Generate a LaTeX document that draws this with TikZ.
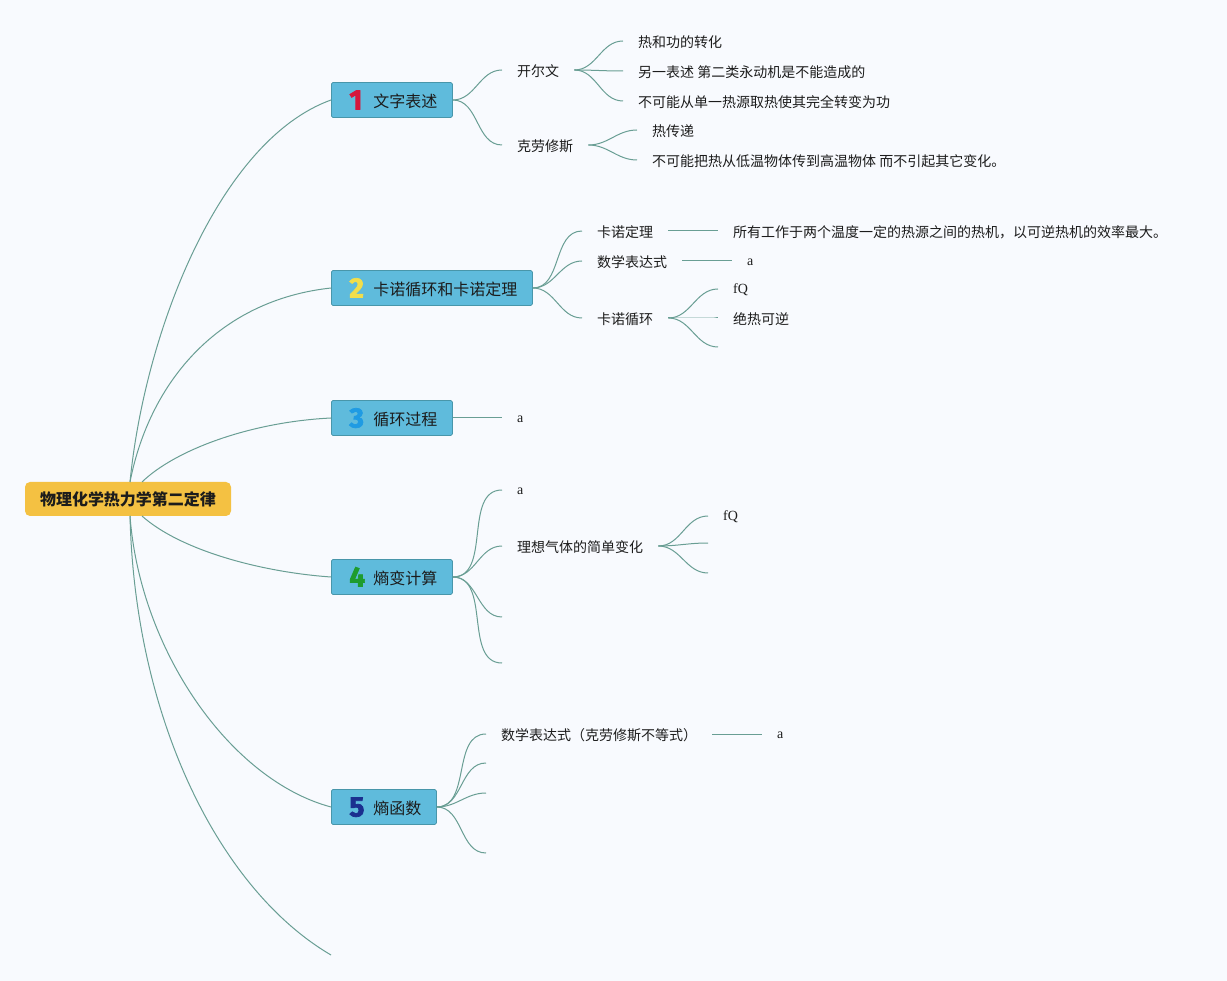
\documentclass[tikz,border=0pt]{standalone}
\usepackage{fontspec}
\setmainfont{Liberation Serif}
\newfontfamily\cjk{Noto Sans CJK SC}
\newfontfamily\numfont{Fira Sans}
\definecolor{bg}{RGB}{248,250,254}
\definecolor{lnk}{RGB}{105,158,148}
\definecolor{boxc}{RGB}{95,187,220}
\definecolor{boxb}{RGB}{72,150,170}
\definecolor{rootc}{RGB}{244,193,66}
\definecolor{txt}{RGB}{28,28,28}
\definecolor{nA}{RGB}{214,22,60}
\definecolor{nB}{RGB}{242,222,74}
\definecolor{nC}{RGB}{31,155,227}
\definecolor{nD}{RGB}{30,156,46}
\definecolor{nE}{RGB}{27,47,143}
\newcommand\brlabel[3]{\makebox[42pt][l]{\kern18pt\raisebox{-2pt}{\numfont\bfseries\addfontfeature{FakeBold=2.5}\fontsize{28}{28}\selectfont\color{#1}#2}}#3\kern15pt}
\begin{document}
\begin{tikzpicture}[x=1pt,y=-1pt,
  conn/.style={draw=lnk,line width=1pt},
  rootbox/.style={fill=rootc,rounded corners=5pt,minimum width=206pt,minimum height=34pt,inner sep=0pt,text=txt,font=\cjk\bfseries\fontsize{16}{16}\selectfont},
  branch/.style={draw=boxb,fill=boxc,line width=0.8pt,rounded corners=1.5pt,minimum height=35pt,inner sep=0pt,anchor=west,text=txt,text height=16pt,text depth=1pt,font=\cjk\fontsize{16}{16}\selectfont},
  leaf/.style={inner xsep=15pt,inner ysep=2pt,anchor=west,text=txt,text height=13.6pt,text depth=0pt,font=\cjk\fontsize{14}{14}\selectfont},
  lat/.style={inner xsep=15pt,inner ysep=2pt,anchor=west,text=txt,text height=9.4pt,text depth=0pt,font=\fontsize{14}{14}\selectfont}]
\useasboundingbox[fill=bg] (0,0) rectangle (1227,981);

% root
\node[rootbox] (root) at (128,499) {物理化学热力学第二定律};
\coordinate (r1) at (130,482);
\coordinate (r3) at (142,482);
\coordinate (r4) at (142,516);
\coordinate (r5) at (130,516);

% branches
\node[branch] (b1) at (331,100) {\brlabel{nA}{1}{文字表述}};
\node[branch] (b2) at (331,288) {\brlabel{nB}{2}{卡诺循环和卡诺定理}};
\node[branch] (b3) at (331,418) {\brlabel{nC}{3}{循环过程}};
\node[branch] (b4) at (331,577) {\brlabel{nD}{4}{熵变计算}};
\node[branch] (b5) at (331,807) {\brlabel{nE}{5}{熵函数}};
\coordinate (bot) at (331,955);

\draw[conn] (r1) .. controls (145,330) and (220,140) .. (b1.west);
\draw[conn] (r1) .. controls (150,380) and (220,300) .. (b2.west);
\draw[conn] (r3) .. controls (175,450) and (250,422) .. (b3.west);
\draw[conn] (r4) .. controls (180,550) and (260,572) .. (b4.west);
\draw[conn] (r5) .. controls (140,650) and (230,780) .. (b5.west);
\draw[conn] (r5) .. controls (135,720) and (220,890) .. (bot);

% branch 1
\node[leaf] (k1) at (502,70) {开尔文};
\node[leaf] (k2) at (502,145) {克劳修斯};
\draw[conn] (b1.east) to[out=0,in=180] (k1.west);
\draw[conn] (b1.east) to[out=0,in=180] (k2.west);
\node[leaf] (kk1) at (623,41) {热和功的转化};
\node[leaf] (kk2) at (623,71) {另一表述 第二类永动机是不能造成的};
\node[leaf] (kk3) at (623,101) {不可能从单一热源取热使其完全转变为功};
\draw[conn] (k1.east) to[out=0,in=180] (kk1.west);
\draw[conn] (k1.east) to[out=0,in=180] (kk2.west);
\draw[conn] (k1.east) to[out=0,in=180] (kk3.west);
\node[leaf] (kc1) at (637,130) {热传递};
\node[leaf] (kc2) at (637,160) {不可能把热从低温物体传到高温物体 而不引起其它变化。};
\draw[conn] (k2.east) to[out=0,in=180] (kc1.west);
\draw[conn] (k2.east) to[out=0,in=180] (kc2.west);

% branch 2
\node[leaf] (c1) at (582,231) {卡诺定理};
\node[leaf] (c2) at (582,261) {数学表达式};
\node[leaf] (c3) at (582,318) {卡诺循环};
\draw[conn] (b2.east) to[out=0,in=180] (c1.west);
\draw[conn] (b2.east) to[out=0,in=180] (c2.west);
\draw[conn] (b2.east) to[out=0,in=180] (c3.west);
\node[leaf] (cd1) at (718,231) {所有工作于两个温度一定的热源之间的热机，以可逆热机的效率最大。};
\draw[conn] (c1.east) -- (cd1.west);
\node[lat] (ca) at (732,261) {a};
\draw[conn] (c2.east) -- (ca.west);
\node[lat] (cf1) at (718,289) {fQ};
\node[leaf] (cf2) at (718,318) {绝热可逆};
\coordinate (cf3) at (718,347);
\draw[conn] (c3.east) to[out=0,in=180] (cf1.west);
\draw[conn] (c3.east) to[out=0,in=180] (cf2.west);
\draw[conn] (c3.east) to[out=0,in=180] (cf3);

% branch 3
\node[lat] (t1) at (502,418) {a};
\draw[conn] (b3.east) -- (t1.west);

% branch 4
\node[lat] (e1) at (502,490) {a};
\node[leaf] (e2) at (502,546) {理想气体的简单变化};
\coordinate (e3) at (502,617);
\coordinate (e4) at (502,663);
\draw[conn] (b4.east) to[out=0,in=180] (e1.west);
\draw[conn] (b4.east) to[out=0,in=180] (e2.west);
\draw[conn] (b4.east) to[out=0,in=180] (e3);
\draw[conn] (b4.east) to[out=0,in=180] (e4);
\node[lat] (ef1) at (708,516) {fQ};
\coordinate (ef2) at (708,543);
\coordinate (ef3) at (708,573);
\draw[conn] (e2.east) to[out=0,in=180] (ef1.west);
\draw[conn] (e2.east) to[out=0,in=180] (ef2);
\draw[conn] (e2.east) to[out=0,in=180] (ef3);

% branch 5
\node[leaf] (s1) at (486,734) {数学表达式（克劳修斯不等式）};
\coordinate (s2) at (486,763);
\coordinate (s3) at (486,793);
\coordinate (s4) at (486,853);
\draw[conn] (b5.east) to[out=0,in=180] (s1.west);
\draw[conn] (b5.east) to[out=0,in=180] (s2);
\draw[conn] (b5.east) to[out=0,in=180] (s3);
\draw[conn] (b5.east) to[out=0,in=180] (s4);
\node[lat] (sa) at (762,734) {a};
\draw[conn] (s1.east) -- (sa.west);
\end{tikzpicture}
\end{document}
